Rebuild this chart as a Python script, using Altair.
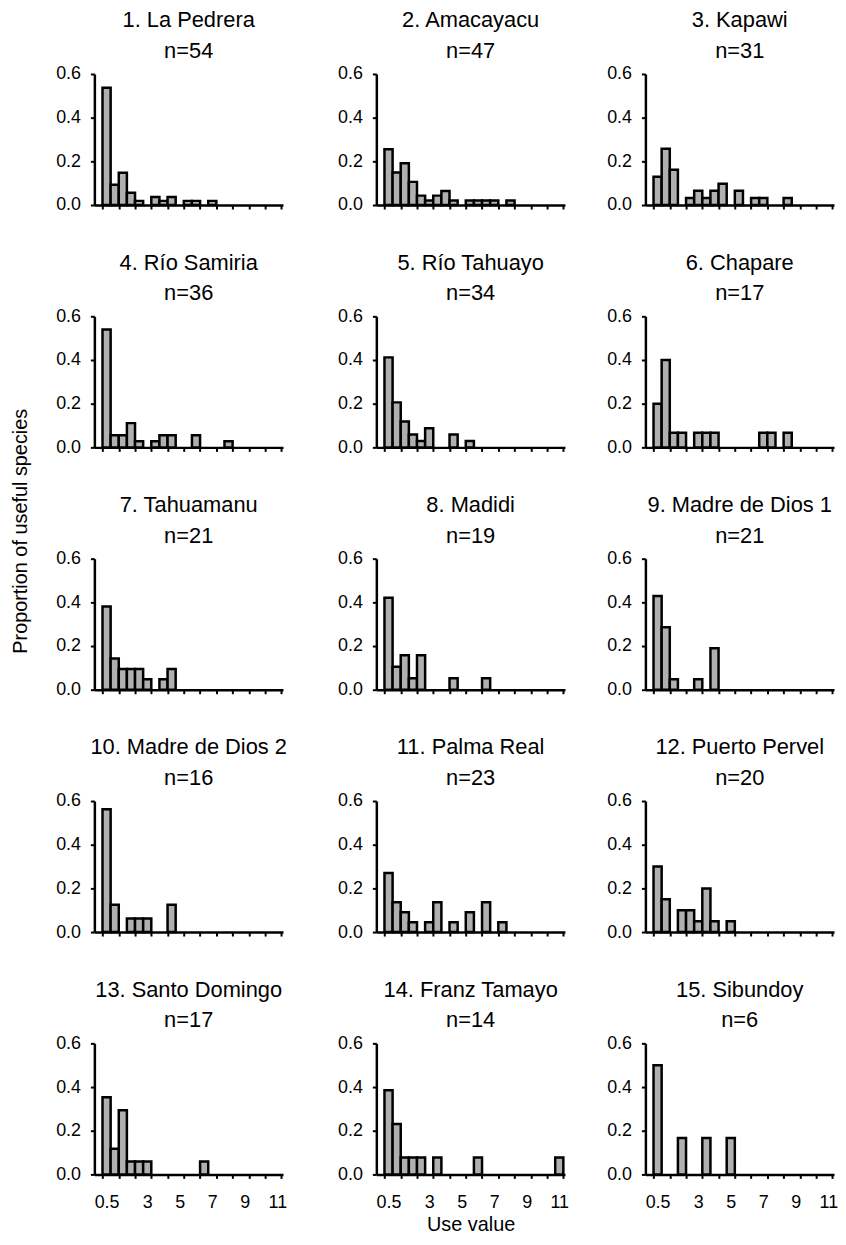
import altair as alt
import pandas as pd

# ---------------- data ----------------
BIN_CENTERS = [0.5, 1.0, 1.5, 2.0, 2.5, 3.0, 3.5, 4.0, 4.5, 5.0, 5.5,
               6.0, 6.5, 7.0, 7.5, 8.0, 8.5, 9.0, 9.5, 10.0, 10.5, 11.0]
BIN_HALF_WIDTH = 0.25

SITE_NAMES = ["1. La Pedrera", "2. Amacayacu", "3. Kapawi",
              "4. Río Samiria", "5. Río Tahuayo", "6. Chapare",
              "7. Tahuamanu", "8. Madidi", "9. Madre de Dios 1",
              "10. Madre de Dios 2", "11. Palma Real", "12. Puerto Pervel",
              "13. Santo Domingo", "14. Franz Tamayo", "15. Sibundoy"]
SITE_N = [54, 47, 31, 36, 34, 17, 21, 19, 21, 16, 23, 20, 17, 14, 6]

P_LA_PEDRERA = [0.537, 0.093, 0.148, 0.056, 0.019, 0, 0.037, 0.019, 0.037, 0, 0.019,
                0.019, 0, 0.019, 0, 0, 0, 0, 0, 0, 0, 0]
P_AMACAYACU = [0.255, 0.149, 0.191, 0.106, 0.043, 0.021, 0.043, 0.064, 0.021, 0, 0.021,
               0.021, 0.021, 0.021, 0, 0.021, 0, 0, 0, 0, 0, 0]
P_KAPAWI = [0.129, 0.258, 0.161, 0, 0.032, 0.065, 0.032, 0.065, 0.097, 0, 0.065,
            0, 0.032, 0.032, 0, 0, 0.032, 0, 0, 0, 0, 0]
P_SAMIRIA = [0.54, 0.056, 0.056, 0.111, 0.028, 0, 0.028, 0.056, 0.056, 0, 0,
             0.056, 0, 0, 0, 0.028, 0, 0, 0, 0, 0, 0]
P_TAHUAYO = [0.412, 0.206, 0.118, 0.059, 0.029, 0.088, 0, 0, 0.059, 0, 0.029,
             0, 0, 0, 0, 0, 0, 0, 0, 0, 0, 0]
P_CHAPARE = [0.2, 0.4, 0.067, 0.067, 0, 0.067, 0.067, 0.067, 0, 0, 0,
             0, 0, 0.067, 0.067, 0, 0.067, 0, 0, 0, 0, 0]
P_TAHUAMANU = [0.381, 0.143, 0.095, 0.095, 0.095, 0.048, 0, 0.048, 0.095, 0, 0,
               0, 0, 0, 0, 0, 0, 0, 0, 0, 0, 0]
P_MADIDI = [0.421, 0.105, 0.158, 0.053, 0.158, 0, 0, 0, 0.053, 0, 0,
            0, 0.053, 0, 0, 0, 0, 0, 0, 0, 0, 0]
P_MADRE_1 = [0.429, 0.286, 0.048, 0, 0, 0.048, 0, 0.19, 0, 0, 0,
             0, 0, 0, 0, 0, 0, 0, 0, 0, 0, 0]
P_MADRE_2 = [0.5625, 0.125, 0, 0.0625, 0.0625, 0.0625, 0, 0, 0.125, 0, 0,
             0, 0, 0, 0, 0, 0, 0, 0, 0, 0, 0]
P_PALMA_REAL = [0.27, 0.136, 0.091, 0.045, 0, 0.045, 0.136, 0, 0.045, 0, 0.091,
                0, 0.136, 0, 0.045, 0, 0, 0, 0, 0, 0, 0]
P_PUERTO_PERVEL = [0.3, 0.15, 0, 0.1, 0.1, 0.05, 0.2, 0.05, 0, 0.05, 0,
                   0, 0, 0, 0, 0, 0, 0, 0, 0, 0, 0]
P_SANTO_DOMINGO = [0.353, 0.118, 0.294, 0.059, 0.059, 0.059, 0, 0, 0, 0, 0,
                   0, 0.059, 0, 0, 0, 0, 0, 0, 0, 0, 0]
P_FRANZ_TAMAYO = [0.385, 0.231, 0.077, 0.077, 0.077, 0, 0.077, 0, 0, 0, 0,
                  0.077, 0, 0, 0, 0, 0, 0, 0, 0, 0, 0.077]
P_SIBUNDOY = [0.5, 0, 0, 0.167, 0, 0, 0.167, 0, 0, 0.167, 0,
              0, 0, 0, 0, 0, 0, 0, 0, 0, 0, 0]

PROPORTIONS = [P_LA_PEDRERA, P_AMACAYACU, P_KAPAWI, P_SAMIRIA, P_TAHUAYO,
               P_CHAPARE, P_TAHUAMANU, P_MADIDI, P_MADRE_1, P_MADRE_2,
               P_PALMA_REAL, P_PUERTO_PERVEL, P_SANTO_DOMINGO, P_FRANZ_TAMAYO,
               P_SIBUNDOY]

X_TICKS = [0.25, 1.25, 2.25, 3.25, 4.25, 5.25, 6.25, 7.25, 8.25, 9.25, 10.25, 11.25]
X_LABELS = [0.5, 3, 5, 7, 9, 11]
Y_TICKS = [0.0, 0.2, 0.4, 0.6]

rows = []
for k, props in enumerate(PROPORTIONS):
    for c, p in zip(BIN_CENTERS, props):
        if p > 0:
            rows.append({"site": k, "start": c - BIN_HALF_WIDTH,
                         "end": c + BIN_HALF_WIDTH, "prop": p})
df = pd.DataFrame(rows)
spacer_df = pd.DataFrame({"t": [""]})

FONT = "Liberation Sans"
W, H = 190, 132
GAP_1, GAP_2 = 94, 81
ROW_GAP = 112.1
LABEL_TEST = "indexof([0.5,3,5,7,9,11], datum.value) >= 0"


def panel(k, row, col):
    bottom = row == 4
    xkw = dict(values=X_TICKS + (X_LABELS if bottom else []),
               labels=bottom, grid=False)
    if bottom:
        xkw.update(labelExpr=LABEL_TEST + " ? '' + datum.value : ''",
                   tickOpacity={"condition": {"test": LABEL_TEST, "value": 0},
                                "value": 1},
                   labelOverlap=False, labelFlush=False, labelPadding=15)
    if bottom and col == 1:
        xkw.update(title="Use value", titleFontSize=20, titleFontWeight="normal",
                   titleBaseline="alphabetic", titleX=W / 2, titleY=56,
                   titleColor="black", titleFont=FONT)
    else:
        xkw.update(title=None)

    ykw = dict(values=Y_TICKS, format=".1f", grid=False, labelPadding=10)
    if row == 1 and col == 0:
        ykw.update(title="Proportion of useful species", titleFontSize=20,
                   titleFontWeight="normal", titleAngle=270,
                   titleBaseline="alphabetic", titleAlign="center",
                   titleX=-68, titleY=216, titleColor="black", titleFont=FONT)
    else:
        ykw.update(title=None)

    return (
        alt.Chart(df)
        .transform_filter(alt.datum.site == k)
        .mark_bar(fill="#b0b0b0", stroke="black", strokeWidth=2.5)
        .encode(
            x=alt.X("start:Q", scale=alt.Scale(domain=[-0.25, 11.35], nice=False, zero=False),
                    axis=alt.Axis(**xkw)),
            x2="end:Q",
            y=alt.Y("prop:Q", scale=alt.Scale(domain=[0, 0.6], nice=False),
                    axis=alt.Axis(**ykw)),
            y2=alt.datum(0),
        )
        .properties(
            width=W, height=H,
            title=alt.TitleParams(text=[SITE_NAMES[k], f"n={SITE_N[k]}"],
                                  anchor="middle", frame="group", fontSize=22,
                                  fontWeight="normal", lineHeight=31, offset=2,
                                  color="black", font=FONT),
        )
    )


def spacer(w):
    return (
        alt.Chart(spacer_df)
        .mark_text(text="")
        .encode(x=alt.value(0), y=alt.value(0))
        .properties(width=w, height=H)
    )


cells = []
for r in range(5):
    cells += [panel(r * 3, r, 0), spacer(GAP_1), panel(r * 3 + 1, r, 1),
              spacer(GAP_2), panel(r * 3 + 2, r, 2)]

chart = (
    alt.concat(*cells, columns=5, spacing={"row": ROW_GAP, "column": 0},
               bounds="flush", align="each")
    .properties(padding={"left": 3, "top": -3, "right": 0, "bottom": 0})
    .configure_view(stroke=None)
    .configure_axis(domainColor="black", domainWidth=2.5, tickColor="black",
                    tickWidth=2, tickSize=4, labelColor="black", labelFontSize=18,
                    labelFont=FONT)
)

chart.save("out.html", embed_options={"renderer": "svg", "actions": False})
